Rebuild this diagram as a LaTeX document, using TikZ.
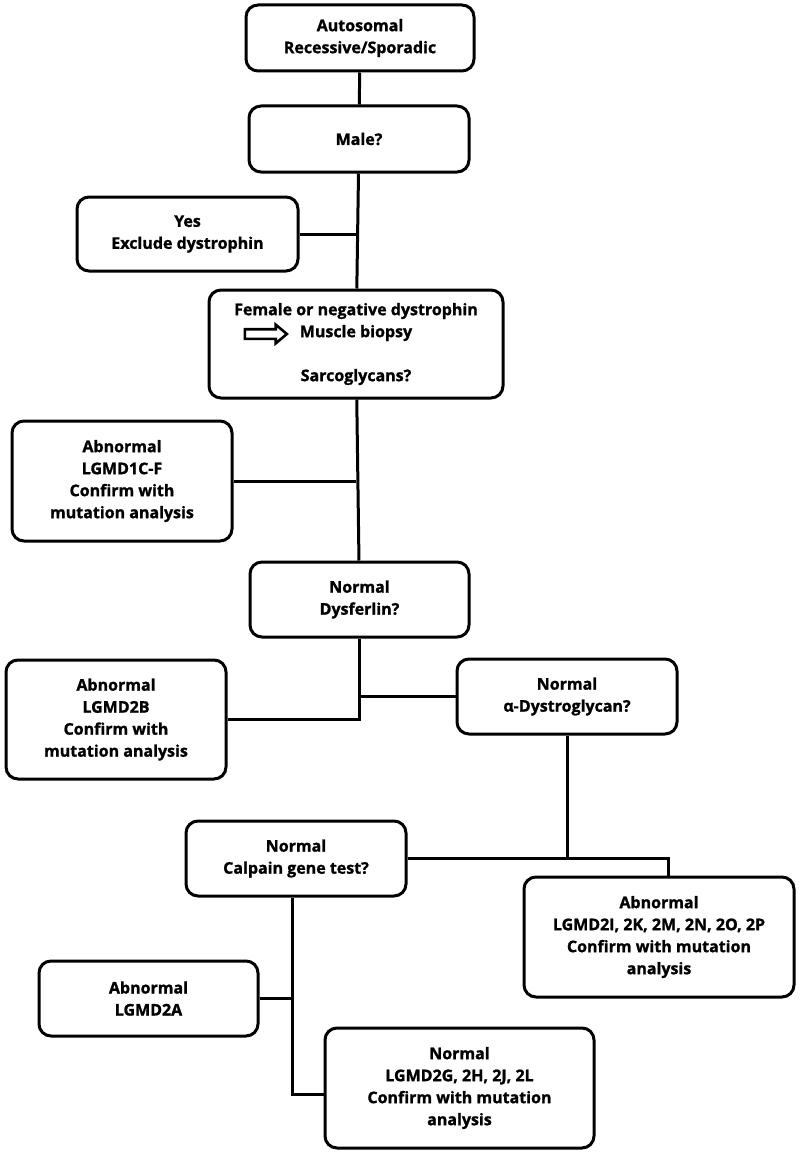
\documentclass[tikz,border=0pt]{standalone}
\usepackage{fontspec}
\setmainfont{Open Sans}[BoldFeatures={FakeBold=1.2}]
\usetikzlibrary{positioning, shapes.arrows}
\tikzset{
  box/.style={
      rectangle,
      rounded corners=12pt,
      draw,
      line width=3pt,
      align=center,
      inner sep=0pt,
      font=\bfseries\fontsize{16}{22}\selectfont
    },
  link/.style={
      line width=3pt
    },
  hollow/.style={
      single arrow,
      draw,
      line width=2.6pt,
      fill=white,
      inner xsep=0pt,
      inner ysep=3.5pt,
      single arrow head extend=4.5pt,
      single arrow tip angle=80
    }
}

\begin{document}
\begin{tikzpicture}[x=1pt, y=-1pt]
  \useasboundingbox (0,0) rectangle (800,1153);
  % main trunk
  \node[box, minimum width=228, minimum height=66] (auto) at (360,38) {Autosomal\\Recessive/Sporadic};
  \node[box, minimum width=220, minimum height=66] (male) at (359,139) {Male?};
  \node[box, minimum width=221, minimum height=74] (yes) at (187.5,234) {Yes\\Exclude dystrophin};
  \node[box, minimum width=294, minimum height=108] (fem) at (356,344) {Female or negative dystrophin\\Muscle biopsy\\[22pt]Sarcoglycans?};
  \node[hollow, minimum height=42] (arw) at (263,334) {};
  \node[box, minimum width=220, minimum height=120] (lg1c) at (122,481) {Abnormal\\LGMD1C-F\\Confirm with\\mutation analysis};
  \node[box, minimum width=219, minimum height=75] (dysf) at (359.5,599.5) {Normal\\Dysferlin?};
  \node[box, minimum width=220, minimum height=119] (lg2b) at (116,719.5) {Abnormal\\LGMD2B\\Confirm with\\mutation analysis};
  \node[box, minimum width=220, minimum height=75] (adg) at (567,696.5) {Normal\\α-Dystroglycan?};
  % lower part
  \node[box, minimum width=220, minimum height=75] (calp) at (296,858.5) {Normal\\Calpain gene test?};
  \node[box, minimum width=270, minimum height=120] (lg2i) at (659,937) {Abnormal\\LGMD2I, 2K, 2M, 2N, 2O, 2P\\Confirm with mutation\\analysis};
  \node[box, minimum width=219, minimum height=75] (lg2a) at (148.5,998.5) {Abnormal\\LGMD2A};
  \node[box, minimum width=269, minimum height=120] (lg2g) at (459.5,1088) {Normal\\LGMD2G, 2H, 2J, 2L\\Confirm with mutation\\analysis};
  \coordinate (ctop) at ([xshift=-4pt]calp.south);
  \coordinate (gin) at ([yshift=-6pt]lg2g.west);

  \draw[link] (auto) -- (male);
  \draw[link] (male) -- (fem);
  \draw[link] (yes.east) -- (yes.east -| male.south);
  \draw[link] (fem) -- (dysf);
  \draw[link] (lg1c.east) -- (lg1c.east -| fem.south);
  \draw[link] (dysf.south) |- (lg2b.east);
  \draw[link] (adg.west) -- (adg.west -| dysf.south);
  \draw[link] (calp.east) -| ([xshift=9pt]lg2i.north);
  \draw[link] (adg.south) -- (adg.south |- calp.east);
  \draw[link] (ctop) |- (gin);
  \draw[link] (lg2a.east) -- (lg2a.east -| ctop);
\end{tikzpicture}
\end{document}
